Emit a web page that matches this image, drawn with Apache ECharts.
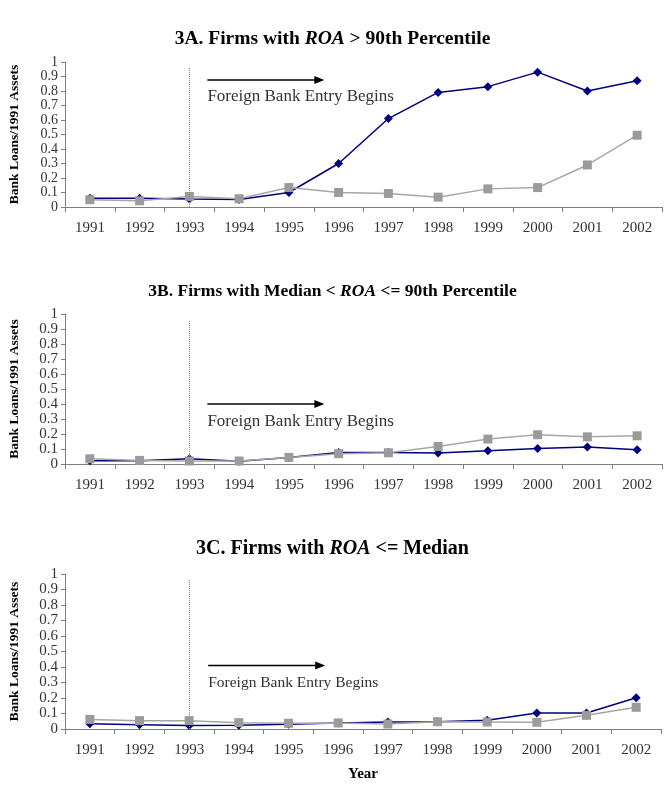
<!DOCTYPE html>
<html>
<head>
<meta charset="utf-8">
<script src="https://cdn.jsdelivr.net/npm/echarts@6/dist/echarts.min.js"></script>
<style>
  html, body { margin: 0; padding: 0; background: #fff; }
  #chart { width: 665px; height: 796px; }
</style>
</head>
<body>
<div id="chart"></div>
<script>
// years on the x axis
const years = ['1991', '1992', '1993', '1994', '1995', '1996', '1997', '1998', '1999', '2000', '2001', '2002'];
const yTicks = [0, 0.1, 0.2, 0.3, 0.4, 0.5, 0.6, 0.7, 0.8, 0.9, 1];

// 3A: ROA > 90th percentile
const highDiamond = [0.061, 0.060, 0.055, 0.052, 0.100, 0.300, 0.610, 0.790, 0.830, 0.930, 0.800, 0.870];
const highSquare  = [0.050, 0.043, 0.073, 0.057, 0.134, 0.100, 0.093, 0.068, 0.125, 0.134, 0.290, 0.495];
// 3B: median < ROA <= 90th percentile
const midDiamond = [0.022, 0.022, 0.035, 0.018, 0.044, 0.077, 0.077, 0.073, 0.088, 0.104, 0.113, 0.095];
const midSquare  = [0.035, 0.024, 0.020, 0.020, 0.044, 0.069, 0.075, 0.117, 0.166, 0.195, 0.181, 0.188];
// 3C: ROA <= median
const lowDiamond = [0.034, 0.028, 0.022, 0.024, 0.030, 0.039, 0.045, 0.047, 0.056, 0.103, 0.103, 0.202];
const lowSquare  = [0.062, 0.054, 0.054, 0.041, 0.037, 0.039, 0.032, 0.047, 0.045, 0.043, 0.088, 0.140];

const entryYear = '1993';
const entryText = 'Foreign Bank Entry Begins';

const serif = '"Liberation Serif", "Times New Roman", serif';
const navy = '#00007f';
const grey = '#9b9b9b';

const panels = [
  { title: '3A. Firms with {i|ROA} > 90th Percentile', diamond: highDiamond, square: highSquare, titleSize: 19.5, ySize: 14,
    grid: { left: 62, top: 62, width: 600, height: 145 }, titleTop: 24, arrowY: 0.876, textY: 0.76, arrowDx: 18, textSize: 17 },
  { title: '3B. Firms with Median < {i|ROA} <= 90th Percentile', diamond: midDiamond, square: midSquare, titleSize: 17.5, ySize: 15,
    grid: { left: 62, top: 314, width: 600, height: 150 }, titleTop: 277, arrowY: 0.40, textY: 0.28, arrowDx: 18, textSize: 17 },
  { title: '3C. Firms with {i|ROA} <= Median', diamond: lowDiamond, square: lowSquare, titleSize: 20, ySize: 15,
    grid: { left: 53, top: 574, width: 608, height: 155 }, titleTop: 534, arrowY: 0.41, textY: 0.30, arrowDx: 19, textSize: 15.5 }
];

const myChart = echarts.init(document.getElementById('chart'), null, { renderer: 'canvas' });

const option = {
  animation: false,
  backgroundColor: '#fff',
  title: panels.map(p => ({
    text: p.title,
    left: 'center',
    top: p.titleTop,
    textStyle: {
      fontFamily: serif, fontSize: p.titleSize, fontWeight: 'bold', color: '#000',
      rich: { i: { fontFamily: serif, fontSize: p.titleSize, fontWeight: 'bold', fontStyle: 'italic', color: '#000' } }
    }
  })),
  grid: panels.map(p => p.grid),
  xAxis: panels.map((p, i) => ({
    type: 'category',
    gridIndex: i,
    data: years,
    boundaryGap: true,
    name: i === 2 ? 'Year' : '',
    nameLocation: 'middle',
    nameGap: 38,
    nameTextStyle: { fontFamily: serif, fontSize: 15, fontWeight: 'bold', color: '#000' },
    axisLine: { lineStyle: { color: '#7f7f7f', width: 1 } },
    axisTick: { show: true, length: 5, lineStyle: { color: '#7f7f7f' }, alignWithLabel: false },
    axisLabel: { fontFamily: serif, fontSize: 15, color: '#333', margin: 14 },
    splitLine: { show: false }
  })),
  yAxis: panels.map((p, i) => ({
    type: 'value',
    gridIndex: i,
    min: yTicks[0],
    max: yTicks[yTicks.length - 1],
    interval: 0.1,
    name: 'Bank Loans/1991 Assets',
    nameLocation: 'middle',
    nameGap: 43,
    nameTextStyle: { fontFamily: serif, fontSize: 13.5, fontWeight: 'bold', color: '#000' },
    axisLine: { show: true, lineStyle: { color: '#7f7f7f', width: 1 } },
    axisTick: { show: true, length: 4, lineStyle: { color: '#7f7f7f' } },
    axisLabel: {
      fontFamily: serif, fontSize: p.ySize, color: '#333', margin: 7,
      showMinLabel: true, showMaxLabel: true, hideOverlap: false
    },
    splitLine: { show: false }
  })),
  series: []
};

panels.forEach((p, i) => {
  option.series.push({
    type: 'line',
    xAxisIndex: i, yAxisIndex: i,
    data: p.diamond,
    symbol: 'diamond', symbolSize: 9,
    lineStyle: { color: navy, width: 1.5 },
    itemStyle: { color: navy },
    z: 3,
    markLine: {
      silent: true,
      symbol: ['none', 'none'],
      label: { show: false },
      lineStyle: { color: '#8a8a8a', type: [1, 1], width: 1 },
      data: [[{ coord: [entryYear, 0] }, { coord: [entryYear, 0.96] }]]
    }
  });
  option.series.push({
    type: 'line',
    xAxisIndex: i, yAxisIndex: i,
    data: p.square,
    symbol: 'rect', symbolSize: 9,
    lineStyle: { color: '#a6a6a6', width: 1.5 },
    itemStyle: { color: grey },
    z: 4
  });
});

myChart.setOption(option);

// arrow + caption, placed from the axes' own coordinates
const graphics = [];
panels.forEach((p, i) => {
  const base = myChart.convertToPixel({ gridIndex: i }, [entryYear, p.arrowY]);
  const txt = myChart.convertToPixel({ gridIndex: i }, [entryYear, p.textY]);
  const x0 = base[0] + p.arrowDx;
  const x1 = x0 + 117;
  graphics.push({
    type: 'line',
    shape: { x1: x0, y1: base[1], x2: x1 - 8, y2: base[1] },
    style: { stroke: '#000', lineWidth: 1.5 },
    silent: true
  });
  graphics.push({
    type: 'polygon',
    shape: { points: [[x1 - 10, base[1] - 4], [x1, base[1]], [x1 - 10, base[1] + 4]] },
    style: { fill: '#000' },
    silent: true
  });
  graphics.push({
    type: 'text',
    x: x0, y: txt[1],
    style: {
      text: entryText, fontFamily: serif, fontSize: p.textSize, fill: '#333',
      verticalAlign: 'middle'
    },
    silent: true
  });
});
myChart.setOption({ graphic: graphics });

window.addEventListener('resize', () => {
  myChart.resize();
});
</script>
</body>
</html>
